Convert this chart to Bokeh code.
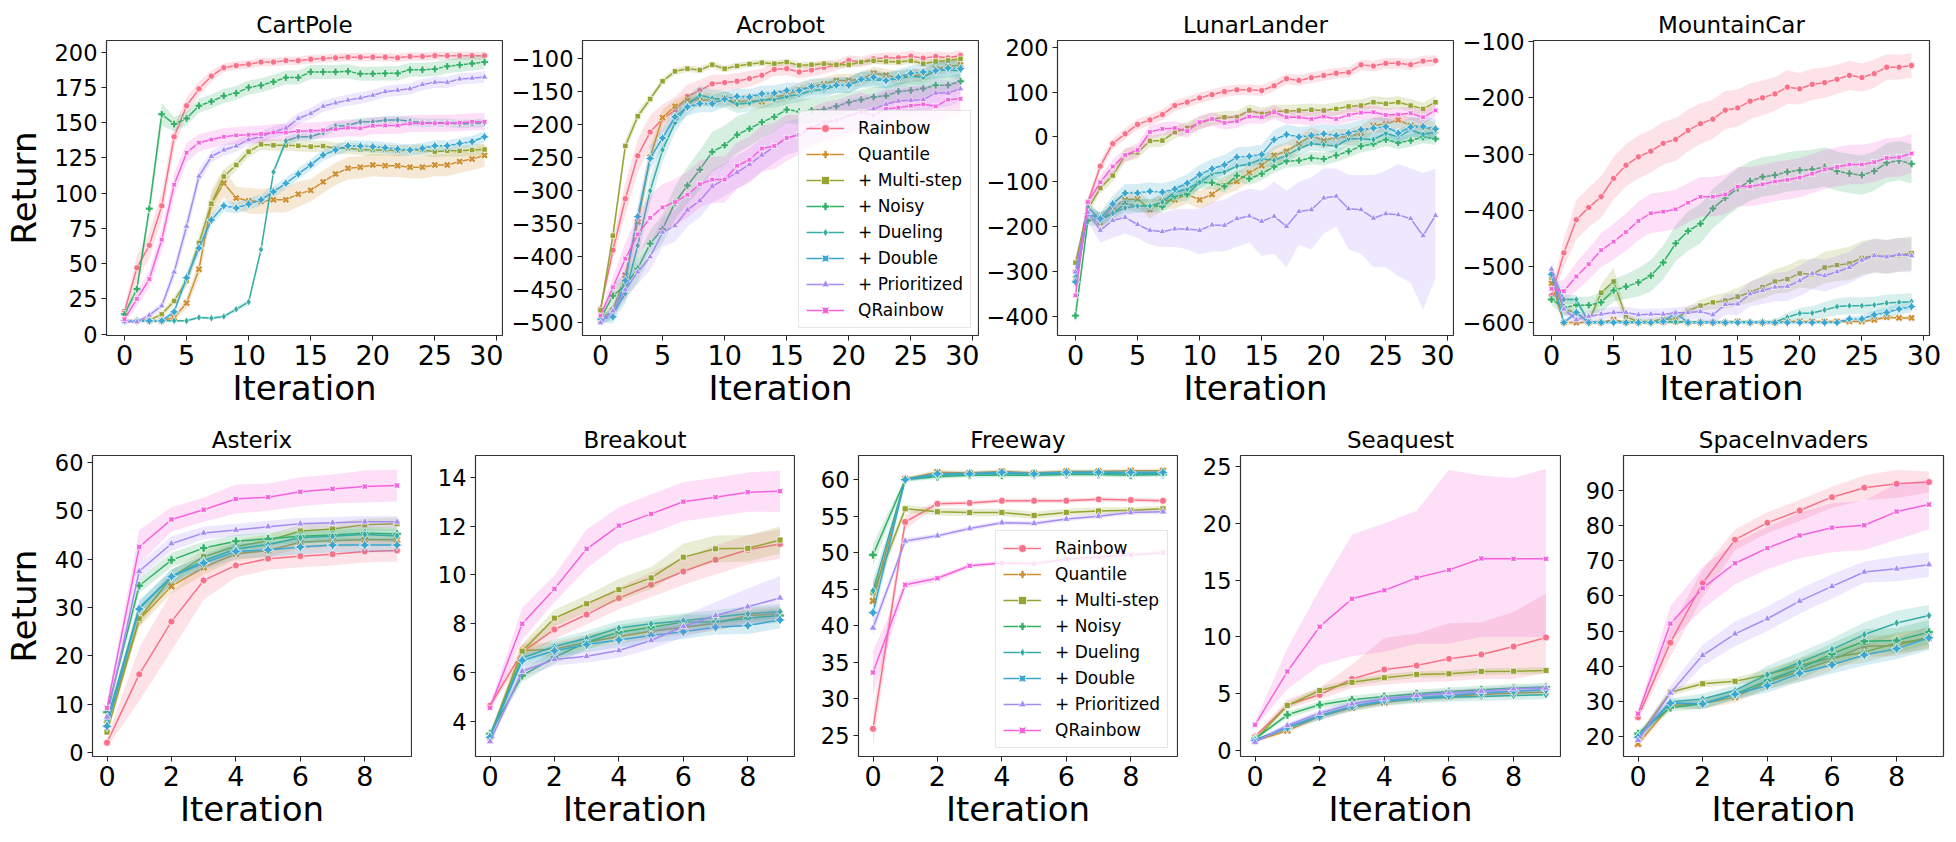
from math import pi
import numpy as np
from bokeh.plotting import figure
from bokeh.layouts import row, column
from bokeh.models import Legend, LegendItem, Range1d, FixedTicker
from bokeh.embed import file_html
from bokeh.resources import INLINE

FONT = "DejaVu Sans"

METHODS = ["Rainbow", "Quantile", "+ Multi-step", "+ Noisy", "+ Dueling", "+ Double", "+ Prioritized", "QRainbow"]
COLORS = ["#f77189", "#ce9032", "#97a431", "#32b166", "#36ada4", "#39a7d0", "#a48cf4", "#f561dd"]

# ---------------- CartPole (30 iterations) ----------------
CARTPOLE_MEAN = {
    "Rainbow": [16, 47, 63, 91, 140, 162, 174, 183, 189, 190.5, 191.5, 193, 193, 194, 194, 195, 195.5, 196, 196.5, 196.5, 196.5, 196.5, 196, 197, 197, 197.5, 197.5, 197.5, 197.5, 197.5],
    "Quantile": [9.4, 9.4, 9.4, 9.4, 11.8, 22, 46, 92.5, 107, 96.5, 94.6, 94, 95.3, 95.3, 99.3, 102, 108, 113.6, 117.6, 118.4, 120, 119.5, 119.5, 118.4, 118.4, 120, 120, 122.4, 124.2, 126.8],
    "+ Multi-step": [9.4, 9.4, 10, 14, 23.5, 37.6, 64.7, 92.5, 111.8, 120, 129.4, 134.6, 134, 134, 133.6, 133, 133.4, 131.8, 131.8, 131, 130.6, 130.6, 130, 130.6, 130.6, 129.4, 130, 130, 130.6, 131],
    "+ Noisy": [14, 32, 89, 156, 149, 153, 162, 165, 169, 171, 175, 176.5, 179, 182, 182, 186, 186, 186, 186.4, 184.7, 184.7, 185, 185, 187.5, 187.5, 188, 190, 191, 192, 193],
    "+ Dueling": [9.4, 9.4, 9.4, 9.4, 9.4, 9.4, 11.8, 11.3, 12.5, 17.6, 22.8, 60, 115, 137, 140, 140, 143, 147.5, 148, 150.6, 150.6, 151.8, 152, 151, 150, 150, 150, 149, 149.4, 150],
    "+ Double": [9.4, 9.4, 9.4, 9.4, 15.8, 40, 61, 81, 91, 89.4, 92.2, 95.3, 101, 107, 113.6, 120, 127, 130.6, 133.6, 133.4, 133, 132.2, 131.3, 130.6, 131.8, 133.6, 133.6, 135.3, 136.5, 140],
    "+ Prioritized": [8.7, 8.7, 13.4, 20, 44, 76.5, 112, 126, 130.6, 133.4, 138, 140, 143.5, 146, 153, 156.5, 161.6, 164, 166, 167.5, 169.4, 172, 173, 174, 177, 178.6, 178.6, 181, 181.6, 182.4],
    "QRainbow": [10.6, 25, 39, 67, 106, 128.7, 135.8, 138, 140, 141, 141.4, 142, 143, 143, 144, 144.2, 144.7, 145.4, 146.4, 146, 147.8, 148, 148, 149.4, 149.6, 149.6, 149.6, 150, 150.6, 150.6],
}
CARTPOLE_ERR = {
    "Rainbow": [4, 9, 9, 10, 8, 6, 5, 4, 3, 3, 3, 3, 3, 3, 3, 3, 3, 3, 3, 3, 3, 3, 3, 3, 3, 3, 3, 3, 3, 3],
    "Quantile": [1, 1, 1, 1, 2, 4, 6, 10, 10, 8, 9, 9, 9, 9, 9, 8, 8, 8, 8, 8, 8, 8, 8, 8, 8, 8, 8, 8, 8, 8],
    "+ Multi-step": [1, 1, 1, 2, 3, 4, 5, 6, 5, 4, 4, 4, 4, 4, 4, 4, 4, 4, 4, 4, 4, 4, 4, 4, 4, 4, 4, 4, 4, 4],
    "+ Noisy": [2, 4, 6, 8, 5, 5, 5, 5, 5, 5, 5, 5, 5, 5, 5, 5, 5, 5, 5, 5, 5, 5, 5, 5, 5, 5, 5, 5, 5, 5],
    "+ Dueling": [1, 1, 1, 1, 1, 1, 1, 1, 1, 2, 2, 3, 3, 3, 3, 3, 3, 3, 3, 3, 3, 3, 3, 3, 3, 3, 3, 3, 3, 3],
    "+ Double": [1, 1, 1, 1, 2, 4, 5, 4, 4, 4, 4, 4, 4, 4, 4, 4, 4, 4, 4, 4, 4, 4, 4, 4, 4, 4, 4, 4, 4, 4],
    "+ Prioritized": [1, 1, 2, 3, 5, 6, 5, 4, 4, 4, 4, 4, 4, 4, 4, 4, 4, 4, 4, 4, 4, 4, 4, 4, 4, 4, 4, 4, 4, 4],
    "QRainbow": [3, 5, 6, 8, 8, 7, 6, 6, 6, 6, 6, 6, 6, 6, 6, 6, 6, 6, 6, 6, 6, 6, 6, 6, 6, 6, 6, 6, 6, 6],
}

# ---------------- Acrobot ----------------
ACROBOT_MEAN = {
    "Rainbow": [-479, -390, -312, -247, -211, -191, -178, -157, -148, -138, -136, -134, -130, -125, -116, -115, -120, -117, -113, -110, -102.5, -105, -100, -98.5, -98.5, -96, -99, -96.5, -98.5, -95],
    "Quantile": [-496, -481, -428, -347, -249, -189, -172, -163, -163, -162, -160, -166, -163, -165, -158, -155, -147, -142, -138, -133, -133, -131, -122, -125, -129, -125, -125, -115, -112, -109],
    "+ Multi-step": [-481, -368, -232, -187, -161, -134, -119, -115, -117, -109, -115, -111, -108, -106, -107.5, -105, -110, -109, -107.5, -109, -109, -105, -103, -104, -105, -103, -107.5, -104, -102.5, -100],
    "+ Noisy": [-494, -459, -443, -418, -380, -358, -318, -292, -268, -241, -231, -215, -206, -196, -188, -177, -180, -178, -177, -172, -166, -162, -158, -156, -149.5, -148, -145, -140, -140, -134],
    "+ Dueling": [-496, -486, -456, -383, -300, -238, -197, -170, -155, -160, -161, -169, -167, -162, -162, -157, -154, -148, -147, -140, -140, -132, -132, -133, -130, -127, -128, -118, -117, -118],
    "+ Double": [-494, -491, -436, -339, -251, -220, -188, -173, -168, -168, -161, -157, -158, -153, -152, -148, -148, -142, -142, -140, -140, -131, -128, -133, -128, -122, -120, -118, -114, -115],
    "+ Prioritized": [-500, -482, -450, -423, -400, -363, -353, -329, -315, -293, -283, -272, -260, -246, -233, -220, -215, -203.5, -198.5, -193, -186, -181, -176, -169, -164, -163, -162, -152, -152, -145.5],
    "QRainbow": [-489, -446, -403, -366, -341, -325, -317, -306, -290, -283, -283, -262, -253, -236, -232, -220, -215, -204.5, -196, -193, -186, -181, -186, -176, -174, -171, -169, -172, -162, -160.6],
}
ACROBOT_ERR = {
    "Rainbow": [5, 15, 25, 25, 25, 22, 20, 18, 16, 14, 12, 12, 12, 10, 10, 10, 10, 10, 10, 8, 8, 8, 8, 8, 8, 8, 8, 8, 8, 8],
    "Quantile": [5, 8, 12, 15, 15, 12, 10, 10, 10, 10, 10, 10, 10, 10, 10, 10, 10, 10, 10, 10, 10, 10, 10, 10, 10, 10, 10, 10, 10, 10],
    "+ Multi-step": [5, 10, 10, 8, 6, 5, 5, 5, 5, 5, 5, 5, 5, 5, 5, 5, 5, 5, 5, 5, 5, 5, 5, 5, 5, 5, 5, 5, 5, 5],
    "+ Noisy": [5, 15, 20, 20, 20, 22, 25, 28, 30, 30, 30, 28, 26, 24, 22, 20, 20, 18, 18, 18, 16, 15, 15, 14, 14, 14, 14, 13, 13, 12],
    "+ Dueling": [5, 10, 15, 20, 20, 18, 15, 14, 14, 13, 13, 13, 13, 13, 12, 12, 12, 12, 12, 12, 12, 12, 12, 12, 12, 12, 12, 12, 12, 12],
    "+ Double": [5, 10, 15, 18, 18, 15, 14, 13, 13, 13, 12, 12, 12, 12, 12, 12, 12, 12, 12, 12, 12, 12, 12, 12, 12, 12, 12, 12, 12, 12],
    "+ Prioritized": [5, 10, 15, 18, 20, 22, 24, 25, 25, 25, 25, 25, 25, 25, 25, 25, 25, 25, 25, 25, 24, 24, 24, 23, 23, 22, 22, 22, 20, 20],
    "QRainbow": [5, 15, 25, 30, 35, 35, 35, 35, 35, 35, 35, 35, 35, 35, 35, 35, 30, 30, 30, 30, 30, 30, 28, 28, 28, 28, 28, 28, 26, 26],
}

# ---------------- LunarLander ----------------
LUNAR_MEAN = {
    "Rainbow": [-300, -145, -65, -15, 7, 28, 38, 50, 70, 77.5, 87, 94.5, 101, 105, 105, 103.5, 114, 129.5, 126, 132, 137, 142, 144, 160.6, 158, 164, 164, 161, 169, 170],
    "Quantile": [-316, -164, -190, -156, -140, -138, -162, -143, -140, -128, -140, -128, -108, -99, -80, -63.6, -41, -32, -15, 3, -8, 0, 0, 8.5, 25.5, 29, 38, 25.5, 23, 14],
    "+ Multi-step": [-280, -160, -114, -86, -41, -34, -9, -8, 11, 20, 31, 40, 44, 44, 59, 51.5, 57.5, 57.5, 59, 60.5, 59, 62.6, 68, 70, 77.5, 74, 77.5, 70, 62.6, 77.5],
    "+ Noisy": [-398, -186, -182, -170, -149, -153, -153, -155, -132, -128, -101, -102, -110, -86, -93, -82, -66, -54, -52.5, -47, -49, -41, -32, -20.5, -15, -6, -13, -8, 0, -4],
    "+ Dueling": [-312, -156, -186, -170, -158, -154, -154, -145, -123, -116, -101, -82, -78, -65, -60, -49, -52, -41, -26, -15, -17.6, -20.5, -4, -4, -6, 8.5, 0, 16, 5.5, 11],
    "+ Double": [-323, -171, -182, -149, -125, -125, -121, -123, -116, -103, -84, -71, -62, -45, -43, -39, -6, 5.5, 0, 3, 7, 3, 8.5, 16.6, 19.6, 23, 8.5, 22, 23, 18],
    "+ Prioritized": [-301, -168, -208, -186, -179, -195, -208, -211, -205, -205, -208, -196, -197, -182, -176, -188, -177, -199, -166, -162, -136, -132, -160, -162, -181, -171, -173.5, -182, -220, -175],
    "QRainbow": [-353, -145, -101, -66, -40, -29, 11, 18, 20, 13, 33, 40, 31.5, 35, 45.5, 44, 55, 44, 44, 40, 45.5, 40, 49, 54, 55, 49, 50, 53, 44, 59],
}
LUNAR_ERR = {
    "Rainbow": [20, 10, 12, 12, 12, 12, 12, 12, 12, 12, 12, 12, 12, 12, 12, 12, 12, 12, 12, 12, 12, 12, 12, 12, 12, 12, 12, 12, 12, 12],
    "Quantile": [20, 15, 20, 18, 18, 18, 20, 20, 20, 20, 20, 20, 20, 20, 20, 20, 20, 20, 18, 18, 18, 18, 18, 18, 18, 18, 18, 18, 18, 18],
    "+ Multi-step": [15, 10, 12, 14, 14, 14, 14, 14, 14, 14, 14, 14, 14, 14, 14, 14, 14, 14, 14, 14, 14, 14, 14, 14, 14, 14, 14, 14, 14, 14],
    "+ Noisy": [20, 12, 14, 14, 14, 14, 14, 14, 14, 14, 14, 14, 14, 14, 14, 14, 14, 14, 14, 14, 14, 14, 14, 14, 14, 14, 14, 14, 14, 14],
    "+ Dueling": [20, 12, 15, 15, 15, 15, 15, 15, 15, 15, 15, 15, 15, 15, 15, 15, 15, 15, 15, 15, 15, 15, 15, 15, 15, 15, 15, 15, 15, 15],
    "+ Double": [20, 12, 15, 18, 20, 20, 20, 20, 20, 20, 22, 22, 22, 22, 22, 22, 22, 22, 22, 22, 22, 22, 22, 22, 22, 22, 22, 22, 22, 22],
    "+ Prioritized": [20, 20, 25, 35, 38, 38, 40, 40, 42, 45, 50, 55, 58, 60, 60, 72, 80, 85, 70, 80, 72, 66, 82, 88, 102, 108, 125, 127, 152, 122],
    "QRainbow": [20, 12, 15, 15, 15, 15, 15, 15, 15, 15, 15, 15, 15, 15, 15, 15, 15, 15, 15, 15, 15, 15, 15, 15, 15, 15, 15, 15, 15, 15],
}
# asymmetric band of + Prioritized (lower / upper edges)
LUNAR_PRIO_LOW = [-320, -190, -235, -225, -215, -225, -240, -245, -245, -250, -262, -255, -255, -245, -235, -265, -260, -290, -240, -250, -215, -200, -250, -260, -290, -290, -310, -325, -385, -315]
LUNAR_PRIO_HIGH = [-280, -150, -180, -150, -140, -150, -160, -170, -160, -160, -160, -145, -140, -125, -115, -120, -100, -120, -100, -90, -70, -70, -85, -85, -85, -75, -60, -70, -80, -70]

# ---------------- MountainCar ----------------
MOUNTAIN_MEAN = {
    "Rainbow": [-552, -476, -417, -395, -376, -343.5, -320, -305, -295, -281, -274, -258, -246, -238, -222, -218, -206, -200, -193, -181, -184, -176, -173, -167, -160, -164, -157, -145.5, -145.5, -142.5],
    "Quantile": [-530, -600, -600, -600, -600, -595, -600, -600, -600, -599, -598, -600, -600, -600, -600, -598, -600, -600, -600, -598, -598, -598, -598, -598, -598, -598, -595, -590.5, -591.7, -591.7],
    "+ Multi-step": [-520, -576, -583, -598, -547, -527, -590, -598, -598, -593.5, -593.5, -579, -570, -564, -561, -554, -546, -537, -527, -522.6, -512.5, -513.7, -502, -497.8, -494.8, -485, -481, -483, -480, -476.5],
    "+ Noisy": [-559, -573, -569, -569, -564, -543, -536, -528.5, -516.7, -493, -459, -437, -424, -397, -378, -361, -348, -340.5, -337.6, -331.7, -329, -327.5, -323, -330.5, -334.6, -337.6, -330.5, -315.7, -311.6, -317.5],
    "+ Dueling": [-511, -559, -559, -599, -599, -599, -599, -599, -599, -599, -599, -599, -599, -599, -599, -599, -599, -599, -599, -590.5, -583.5, -583, -577.5, -571.6, -570, -570, -568.7, -565, -564, -562.8],
    "+ Double": [-514, -600, -582, -600, -600, -600, -600, -600, -600, -598, -583, -600, -600, -600, -600, -600, -600, -600, -600, -600, -600, -600, -600, -600, -593.5, -593.5, -586, -582, -576, -571.6],
    "+ Prioritized": [-505, -576, -595, -589, -585, -582, -582, -586, -585, -585, -583, -582, -580.5, -586, -568, -567, -549, -543, -537, -535.6, -525.5, -512.5, -516.7, -509.6, -502, -489, -481, -483, -479, -481],
    "QRainbow": [-540, -544, -518, -496, -471, -456, -439, -419, -405.5, -402.6, -398.5, -386.6, -376, -376, -372, -358, -358, -354, -349, -346, -342, -335, -327.5, -323, -318.7, -318.7, -314.5, -307, -305.7, -299],
}
MOUNTAIN_ERR = {
    "Rainbow": [10, 25, 35, 35, 37, 38, 38, 38, 38, 38, 38, 37, 36, 35, 34, 33, 32, 31, 30, 30, 28, 28, 27, 26, 26, 25, 25, 23, 22, 22],
    "Quantile": [15, 5, 3, 3, 3, 3, 3, 3, 3, 3, 3, 3, 3, 3, 3, 3, 3, 3, 3, 3, 3, 3, 3, 3, 3, 3, 3, 3, 3, 3],
    "+ Multi-step": [15, 8, 8, 5, 15, 25, 8, 5, 5, 5, 5, 8, 10, 12, 14, 16, 18, 20, 22, 24, 25, 26, 28, 28, 30, 30, 30, 30, 30, 30],
    "+ Noisy": [10, 15, 15, 15, 18, 20, 22, 25, 28, 30, 32, 35, 35, 35, 35, 35, 35, 35, 35, 35, 35, 35, 35, 35, 35, 35, 35, 35, 35, 35],
    "+ Dueling": [10, 8, 8, 3, 3, 3, 3, 3, 3, 3, 3, 3, 3, 3, 3, 3, 3, 3, 5, 8, 10, 12, 14, 15, 15, 15, 15, 15, 15, 15],
    "+ Double": [10, 3, 5, 3, 3, 3, 3, 3, 3, 5, 8, 3, 3, 3, 3, 3, 3, 3, 3, 3, 3, 3, 3, 3, 5, 6, 8, 9, 10, 10],
    "+ Prioritized": [15, 10, 10, 10, 10, 10, 10, 10, 10, 10, 10, 12, 14, 16, 18, 20, 22, 24, 25, 26, 27, 28, 28, 28, 28, 30, 30, 30, 30, 30],
    "QRainbow": [10, 20, 25, 28, 30, 32, 33, 34, 35, 35, 35, 35, 35, 35, 35, 35, 35, 35, 35, 35, 35, 35, 35, 35, 35, 35, 35, 35, 35, 35],
}

# ---------------- Atari (10 iterations) ----------------
ASTERIX_MEAN = {
    "Rainbow": [2.1, 16.2, 27.1, 35.6, 38.7, 40.1, 40.6, 41, 41.6, 41.8],
    "Quantile": [6, 27.5, 34.4, 38.3, 41.1, 41.8, 43.5, 43.8, 44, 44],
    "+ Multi-step": [4.3, 27.7, 36.3, 40.5, 42.6, 43.8, 45.8, 46.2, 47.1, 47.3],
    "+ Noisy": [8.4, 34.5, 39.8, 42.3, 43.7, 44.2, 44.7, 45, 45.4, 45.2],
    "+ Dueling": [6.7, 30, 36.3, 39.7, 42.1, 43, 44.4, 44.7, 45.1, 44.8],
    "+ Double": [5.5, 29.7, 36.4, 39.2, 41.6, 41.9, 42.5, 42.9, 42.9, 42.9],
    "+ Prioritized": [7.4, 37.5, 43.2, 45.4, 46, 46.7, 47.3, 47.5, 47.7, 47.7],
    "QRainbow": [9.3, 42.5, 48.2, 50.2, 52.4, 52.8, 53.9, 54.5, 55, 55.2],
}
ASTERIX_ERR = {
    "Rainbow": [1, 5.5, 6, 4, 2.5, 2.3, 2.3, 2.3, 2.3, 2.3],
    "Quantile": [0.8, 1.5, 1.5, 1.5, 1.3, 1.3, 1.3, 1.3, 1.3, 1.3],
    "+ Multi-step": [0.8, 1.5, 1.5, 1.3, 1.3, 1.3, 1.3, 1.3, 1.3, 1.3],
    "+ Noisy": [0.8, 1.5, 1.5, 1.3, 1.3, 1.3, 1.3, 1.3, 1.3, 1.3],
    "+ Dueling": [0.8, 1.5, 1.5, 1.3, 1.3, 1.3, 1.3, 1.3, 1.3, 1.3],
    "+ Double": [0.8, 1.5, 1.5, 1.5, 1.5, 1.5, 1.5, 1.5, 1.5, 1.5],
    "+ Prioritized": [0.8, 1.5, 1.5, 1.3, 1.3, 1.2, 1.2, 1.2, 1.2, 1.2],
    "QRainbow": [1, 3.5, 2.5, 2.5, 3, 2.8, 3, 3, 3.3, 3.3],
}

BREAKOUT_MEAN = {
    "Rainbow": [4.65, 6.84, 7.77, 8.38, 9.05, 9.6, 10.14, 10.62, 11.03, 11.27],
    "Quantile": [3.36, 6.9, 6.97, 7.25, 7.48, 7.7, 7.86, 8.02, 8.34, 8.41],
    "+ Multi-step": [3.43, 6.88, 8.23, 8.82, 9.4, 9.88, 10.73, 11.07, 11.09, 11.43],
    "+ Noisy": [3.5, 5.88, 6.63, 7.25, 7.66, 7.86, 8.07, 8.09, 8.23, 8.34],
    "+ Dueling": [3.43, 6.6, 7.07, 7.41, 7.83, 8.0, 8.13, 8.27, 8.41, 8.5],
    "+ Double": [3.36, 6.5, 6.9, 7.15, 7.34, 7.52, 7.68, 7.86, 7.93, 8.16],
    "+ Prioritized": [3.18, 6.06, 6.54, 6.67, 6.91, 7.32, 7.89, 8.34, 8.7, 9.06],
    "QRainbow": [4.56, 8.0, 9.43, 11.07, 12.02, 12.5, 13.0, 13.18, 13.39, 13.43],
}
BREAKOUT_ERR = {
    "Rainbow": [0.15, 0.3, 0.4, 0.4, 0.45, 0.5, 0.55, 0.6, 0.6, 0.6],
    "Quantile": [0.1, 0.25, 0.3, 0.3, 0.3, 0.3, 0.3, 0.3, 0.3, 0.3],
    "+ Multi-step": [0.1, 0.3, 0.35, 0.35, 0.45, 0.45, 0.55, 0.55, 0.55, 0.55],
    "+ Noisy": [0.1, 0.25, 0.25, 0.3, 0.3, 0.3, 0.3, 0.3, 0.3, 0.3],
    "+ Dueling": [0.1, 0.25, 0.3, 0.3, 0.3, 0.3, 0.3, 0.3, 0.3, 0.3],
    "+ Double": [0.1, 0.25, 0.3, 0.3, 0.3, 0.3, 0.3, 0.3, 0.35, 0.35],
    "+ Prioritized": [0.1, 0.25, 0.25, 0.25, 0.3, 0.35, 0.45, 0.55, 0.75, 0.9],
    "QRainbow": [0.15, 0.65, 0.55, 0.8, 0.75, 0.8, 0.8, 0.8, 0.8, 0.85],
}

FREEWAY_MEAN = {
    "Rainbow": [25.9, 54.2, 56.7, 56.8, 57.1, 57.1, 57.1, 57.3, 57.2, 57.1],
    "Quantile": [43.4, 60.1, 61.0, 60.9, 61.1, 60.9, 61.1, 61.1, 61.2, 61.2],
    "+ Multi-step": [44.5, 56.0, 55.6, 55.5, 55.5, 55.1, 55.5, 55.7, 55.8, 56.0],
    "+ Noisy": [49.7, 60.0, 60.4, 60.6, 60.6, 60.6, 60.7, 60.7, 60.6, 60.7],
    "+ Dueling": [44.8, 60.0, 60.6, 60.8, 60.8, 60.8, 60.9, 60.9, 60.8, 60.8],
    "+ Double": [41.8, 60.0, 60.8, 60.8, 61.0, 60.8, 61.0, 61.0, 61.0, 61.0],
    "+ Prioritized": [39.7, 51.6, 52.3, 53.3, 54.1, 54.0, 54.6, 55.0, 55.5, 55.6],
    "QRainbow": [33.6, 45.6, 46.5, 48.2, 48.6, 48.5, 49.1, 49.4, 49.7, 50.0],
}
FREEWAY_ERR = {
    "Rainbow": [2.5, 1, 0.3, 0.3, 0.3, 0.3, 0.3, 0.3, 0.3, 0.3],
    "Quantile": [1.5, 0.3, 0.3, 0.3, 0.3, 0.3, 0.3, 0.3, 0.3, 0.3],
    "+ Multi-step": [1.5, 0.5, 0.5, 0.5, 0.5, 0.5, 0.5, 0.5, 0.4, 0.4],
    "+ Noisy": [1.5, 0.3, 0.3, 0.3, 0.3, 0.3, 0.3, 0.3, 0.3, 0.3],
    "+ Dueling": [1.5, 0.3, 0.3, 0.3, 0.3, 0.3, 0.3, 0.3, 0.3, 0.3],
    "+ Double": [1.5, 0.3, 0.3, 0.3, 0.3, 0.3, 0.3, 0.3, 0.3, 0.3],
    "+ Prioritized": [1, 0.4, 0.3, 0.3, 0.3, 0.3, 0.3, 0.3, 0.3, 0.3],
    "QRainbow": [3, 0.5, 0.4, 0.3, 0.3, 0.3, 0.3, 0.3, 0.3, 0.3],
}

SEAQUEST_MEAN = {
    "Rainbow": [1.23, 4.0, 4.9, 6.3, 7.13, 7.48, 8.07, 8.45, 9.15, 9.95],
    "Quantile": [0.82, 1.76, 3.0, 3.76, 4.25, 4.55, 4.75, 4.93, 5.05, 5.13],
    "+ Multi-step": [0.94, 3.96, 5.28, 6.0, 6.4, 6.7, 6.75, 6.95, 6.98, 7.04],
    "+ Noisy": [1.03, 3.14, 4.02, 4.46, 4.75, 5.0, 5.2, 5.34, 5.5, 5.58],
    "+ Dueling": [0.94, 2.05, 3.08, 3.87, 4.31, 4.55, 4.69, 4.75, 4.84, 4.9],
    "+ Double": [0.88, 2.0, 3.0, 3.87, 4.4, 4.64, 4.84, 5.05, 5.22, 5.34],
    "+ Prioritized": [0.73, 2.2, 3.29, 4.1, 4.55, 4.84, 5.08, 5.22, 5.43, 5.49],
    "QRainbow": [2.26, 6.95, 10.9, 13.35, 14.1, 15.2, 15.9, 16.9, 16.87, 16.87],
}
SEAQUEST_ERR = {
    "Rainbow": [0.2, 0.4, 0.5, 1.0, 2.0, 2.2, 2.5, 2.5, 3.0, 3.5],
    "Quantile": [0.1, 0.2, 0.3, 0.3, 0.3, 0.3, 0.3, 0.3, 0.3, 0.3],
    "+ Multi-step": [0.1, 0.3, 0.3, 0.3, 0.3, 0.3, 0.3, 0.3, 0.3, 0.3],
    "+ Noisy": [0.1, 0.3, 0.3, 0.35, 0.35, 0.35, 0.35, 0.35, 0.35, 0.35],
    "+ Dueling": [0.1, 0.25, 0.35, 0.4, 0.4, 0.4, 0.4, 0.4, 0.4, 0.4],
    "+ Double": [0.1, 0.2, 0.3, 0.3, 0.3, 0.3, 0.3, 0.3, 0.3, 0.3],
    "+ Prioritized": [0.1, 0.2, 0.3, 0.3, 0.3, 0.3, 0.3, 0.3, 0.3, 0.3],
    "QRainbow": [0.3, 1.8, 3.4, 5.3, 5.6, 5.9, 7.6, 7.1, 7.0, 7.4],
}
SEAQUEST_RAINBOW_LOW = [1.0, 3.7, 4.5, 5.5, 5.8, 6.0, 6.1, 6.3, 6.3, 6.8]
SEAQUEST_RAINBOW_HIGH = [1.4, 4.5, 5.5, 7.6, 9.9, 10.3, 11.2, 11.3, 12.2, 13.8]
SEAQUEST_QRAINBOW_LOW = [2.0, 5.4, 7.5, 8.3, 8.7, 9.4, 9.4, 10.0, 10.0, 10.0]
SEAQUEST_QRAINBOW_HIGH = [2.5, 9.0, 14.2, 19.0, 20.0, 21.1, 24.7, 24.2, 24.0, 24.8]

SPACE_MEAN = {
    "Rainbow": [25.5, 46.7, 63.6, 76.0, 80.8, 84.3, 88.1, 90.8, 91.9, 92.4],
    "Quantile": [17.9, 28.8, 29.3, 31.2, 35.5, 38.6, 41.8, 45.7, 45.9, 48.3],
    "+ Multi-step": [19.8, 32.6, 35.0, 35.7, 37.6, 40.2, 42.4, 44.0, 46.6, 47.8],
    "+ Noisy": [20.8, 28.2, 29.3, 32.0, 35.9, 39.3, 43.5, 47.1, 47.3, 49.7],
    "+ Dueling": [20.0, 29.8, 30.7, 33.1, 37.6, 41.0, 44.8, 49.0, 52.3, 54.4],
    "+ Double": [19.8, 29.5, 29.3, 32.0, 34.5, 38.0, 40.4, 43.2, 45.0, 48.1],
    "+ Prioritized": [18.9, 32.4, 43.1, 49.2, 53.5, 58.5, 62.7, 66.8, 67.7, 68.9],
    "QRainbow": [26.5, 52.1, 62.2, 69.3, 73.6, 77.2, 79.4, 80.1, 84.0, 86.0],
}
SPACE_ERR = {
    "Rainbow": [1, 4, 4, 3, 3, 3, 3, 3.5, 4, 3],
    "Quantile": [1, 1, 1.5, 1.5, 2, 3, 3, 3, 3, 3],
    "+ Multi-step": [1, 1, 1, 1, 1.5, 2, 2.5, 3, 3, 3],
    "+ Noisy": [1, 1, 1.5, 1.5, 2.5, 3, 3, 3.5, 3.5, 3.5],
    "+ Dueling": [1, 1, 1.5, 1.5, 2.5, 3, 3, 3.5, 3.5, 3],
    "+ Double": [1, 1, 1.5, 1.5, 2, 2.5, 2.5, 3, 3, 3.5],
    "+ Prioritized": [1, 2, 3, 3.5, 3.5, 3.5, 3.5, 3, 3.5, 3.5],
    "QRainbow": [1, 5, 6, 6, 6, 6.5, 7, 7, 8, 7],
}

# tick labels
TOP_XTICKS = [0, 5, 10, 15, 20, 25, 30]
BOTTOM_XTICKS = [0, 2, 4, 6, 8]
CARTPOLE_YTICKS = [0, 25, 50, 75, 100, 125, 150, 175, 200]
ACROBOT_YTICKS = [-500, -450, -400, -350, -300, -250, -200, -150, -100]
LUNAR_YTICKS = [-400, -300, -200, -100, 0, 100, 200]
MOUNTAIN_YTICKS = [-600, -500, -400, -300, -200, -100]
ASTERIX_YTICKS = [0, 10, 20, 30, 40, 50, 60]
BREAKOUT_YTICKS = [4, 6, 8, 10, 12, 14]
FREEWAY_YTICKS = [25, 30, 35, 40, 45, 50, 55, 60]
SEAQUEST_YTICKS = [0, 5, 10, 15, 20, 25]
SPACE_YTICKS = [20, 30, 40, 50, 60, 70, 80, 90]

# marker styles: (marker, size, angle)
MARKER_STYLE = [("circle", 7, 0.0), ("plus", 8.5, pi / 4), ("square", 6, 0.0), ("plus", 8.5, 0.0),
                ("diamond", 8.5, 0.0), ("square_pin", 8, pi / 4), ("triangle", 7.5, 0.0), ("square_pin", 6.5, 0.0)]


def fmt(t):
    s = str(int(t)) if float(t).is_integer() else str(t)
    return s.replace("-", "\u2212")


def make_panel(title, mean, err, overrides, xr, yr, xticks, yticks, fw, fh, bl, br, bt, bb,
               ylabel=None, legend_loc=None, mscale=1.0):
    p = figure(frame_width=fw, frame_height=fh, x_range=Range1d(*xr), y_range=Range1d(*yr),
               output_backend="svg", toolbar_location=None,
               min_border_left=bl, min_border_right=br, min_border_top=bt, min_border_bottom=bb,
               background_fill_color="white", border_fill_color="white")
    p.title.text = title
    p.title.text_font = FONT
    p.title.text_font_size = "23px"
    p.title.text_font_style = "normal"
    p.title.text_color = "black"
    p.title.align = "center"
    p.title.standoff = 5
    p.grid.visible = False
    p.outline_line_color = "#333333"
    p.outline_line_width = 1.2
    for ax, ticks, fs in ((p.xaxis[0], xticks, "27px"), (p.yaxis[0], yticks, "22.5px")):
        ax.ticker = FixedTicker(ticks=ticks)
        ax.major_label_overrides = {t: fmt(t) for t in ticks}
        ax.major_label_text_font = FONT
        ax.major_label_text_font_size = fs
        ax.major_label_text_color = "black"
        ax.minor_tick_line_color = None
        ax.major_tick_in = 0
        ax.major_tick_out = 5
        ax.major_tick_line_color = "#222222"
        ax.axis_line_color = None
        ax.major_label_standoff = 4
        ax.axis_label_text_font = FONT
        ax.axis_label_text_font_size = "34px"
        ax.axis_label_text_font_style = "normal"
        ax.axis_label_text_color = "black"
    p.xaxis.axis_label = "Iteration"
    p.xaxis.axis_label_standoff = 0
    if ylabel:
        p.yaxis.axis_label = ylabel
        p.yaxis.axis_label_standoff = 8

    items = []
    for k, m in enumerate(METHODS):
        y = np.array(mean[m], dtype=float)
        x = np.arange(len(y))
        if m in overrides:
            lo, hi = overrides[m]
            lo = np.array(lo, dtype=float)
            hi = np.array(hi, dtype=float)
        else:
            e = np.array(err[m], dtype=float)
            lo, hi = y - e, y + e
        c = COLORS[k]
        p.varea(x=x, y1=lo, y2=hi, fill_color=c, fill_alpha=0.2)
        ln = p.line(x, y, line_color=c, line_width=1.5)
        mk, sz, ang = MARKER_STYLE[k]
        sc = p.scatter(x, y, marker=mk, size=sz * mscale, angle=ang, fill_color=c,
                       line_color="white", line_width=0.7)
        items.append(LegendItem(label=m, renderers=[ln, sc]))

    if legend_loc is not None:
        leg = Legend(items=items, location=legend_loc, label_text_font=FONT, label_text_font_size="17px",
                     label_text_color="black",
                     glyph_width=38, glyph_height=20, label_height=20, label_standoff=14,
                     spacing=6, padding=7, margin=0, border_line_color="#cccccc",
                     border_line_width=1, background_fill_alpha=0.8)
        p.add_layout(leg)
    return p


TOP_XR = (-1.45, 30.45)
BOT_XR = (-0.45, 9.45)

cart = make_panel("CartPole", CARTPOLE_MEAN, CARTPOLE_ERR, {}, TOP_XR, (-1.0, 208.3), TOP_XTICKS, CARTPOLE_YTICKS,
                  396, 295, 105, 1, 40, 85, ylabel="Return", mscale=0.9)
acro = make_panel("Acrobot", ACROBOT_MEAN, ACROBOT_ERR, {}, TOP_XR, (-519.2, -72.3), TOP_XTICKS, ACROBOT_YTICKS,
                  396, 295, 79, 1, 40, 85, legend_loc=(216, 7), mscale=0.9)
lunar = make_panel("LunarLander", LUNAR_MEAN, LUNAR_ERR, {"+ Prioritized": (LUNAR_PRIO_LOW, LUNAR_PRIO_HIGH)},
                   TOP_XR, (-442.3, 214.9), TOP_XTICKS, LUNAR_YTICKS, 396, 295, 78, 1, 40, 85, mscale=0.9)
mount = make_panel("MountainCar", MOUNTAIN_MEAN, MOUNTAIN_ERR, {}, TOP_XR, (-623.0, -98.0), TOP_XTICKS, MOUNTAIN_YTICKS,
                   396, 295, 79, 28, 40, 85, mscale=0.9)

aster = make_panel("Asterix", ASTERIX_MEAN, ASTERIX_ERR, {}, BOT_XR, (-0.76, 61.4), BOTTOM_XTICKS, ASTERIX_YTICKS,
                   319, 301, 91, 1, 35, 86, ylabel="Return")
brk = make_panel("Breakout", BREAKOUT_MEAN, BREAKOUT_ERR, {}, BOT_XR, (2.57, 14.89), BOTTOM_XTICKS, BREAKOUT_YTICKS,
                 319, 301, 63, 1, 35, 86)
free = make_panel("Freeway", FREEWAY_MEAN, FREEWAY_ERR, {}, BOT_XR, (22.1, 63.3), BOTTOM_XTICKS, FREEWAY_YTICKS,
                  319, 301, 63, 1, 35, 86, legend_loc=(137, 8))
seaq = make_panel("Seaquest", SEAQUEST_MEAN, SEAQUEST_ERR,
                  {"Rainbow": (SEAQUEST_RAINBOW_LOW, SEAQUEST_RAINBOW_HIGH),
                   "QRainbow": (SEAQUEST_QRAINBOW_LOW, SEAQUEST_QRAINBOW_HIGH)},
                  BOT_XR, (-0.53, 25.97), BOTTOM_XTICKS, SEAQUEST_YTICKS, 320, 301, 62, 1, 35, 86)
space = make_panel("SpaceInvaders", SPACE_MEAN, SPACE_ERR, {}, BOT_XR, (14.3, 99.96), BOTTOM_XTICKS, SPACE_YTICKS,
                   320, 301, 62, 14, 35, 86)

layout = column(row(cart, acro, lunar, mount, spacing=0), row(aster, brk, free, seaq, space, spacing=0), spacing=0)

open("out.html", "w").write(file_html(layout, INLINE))
